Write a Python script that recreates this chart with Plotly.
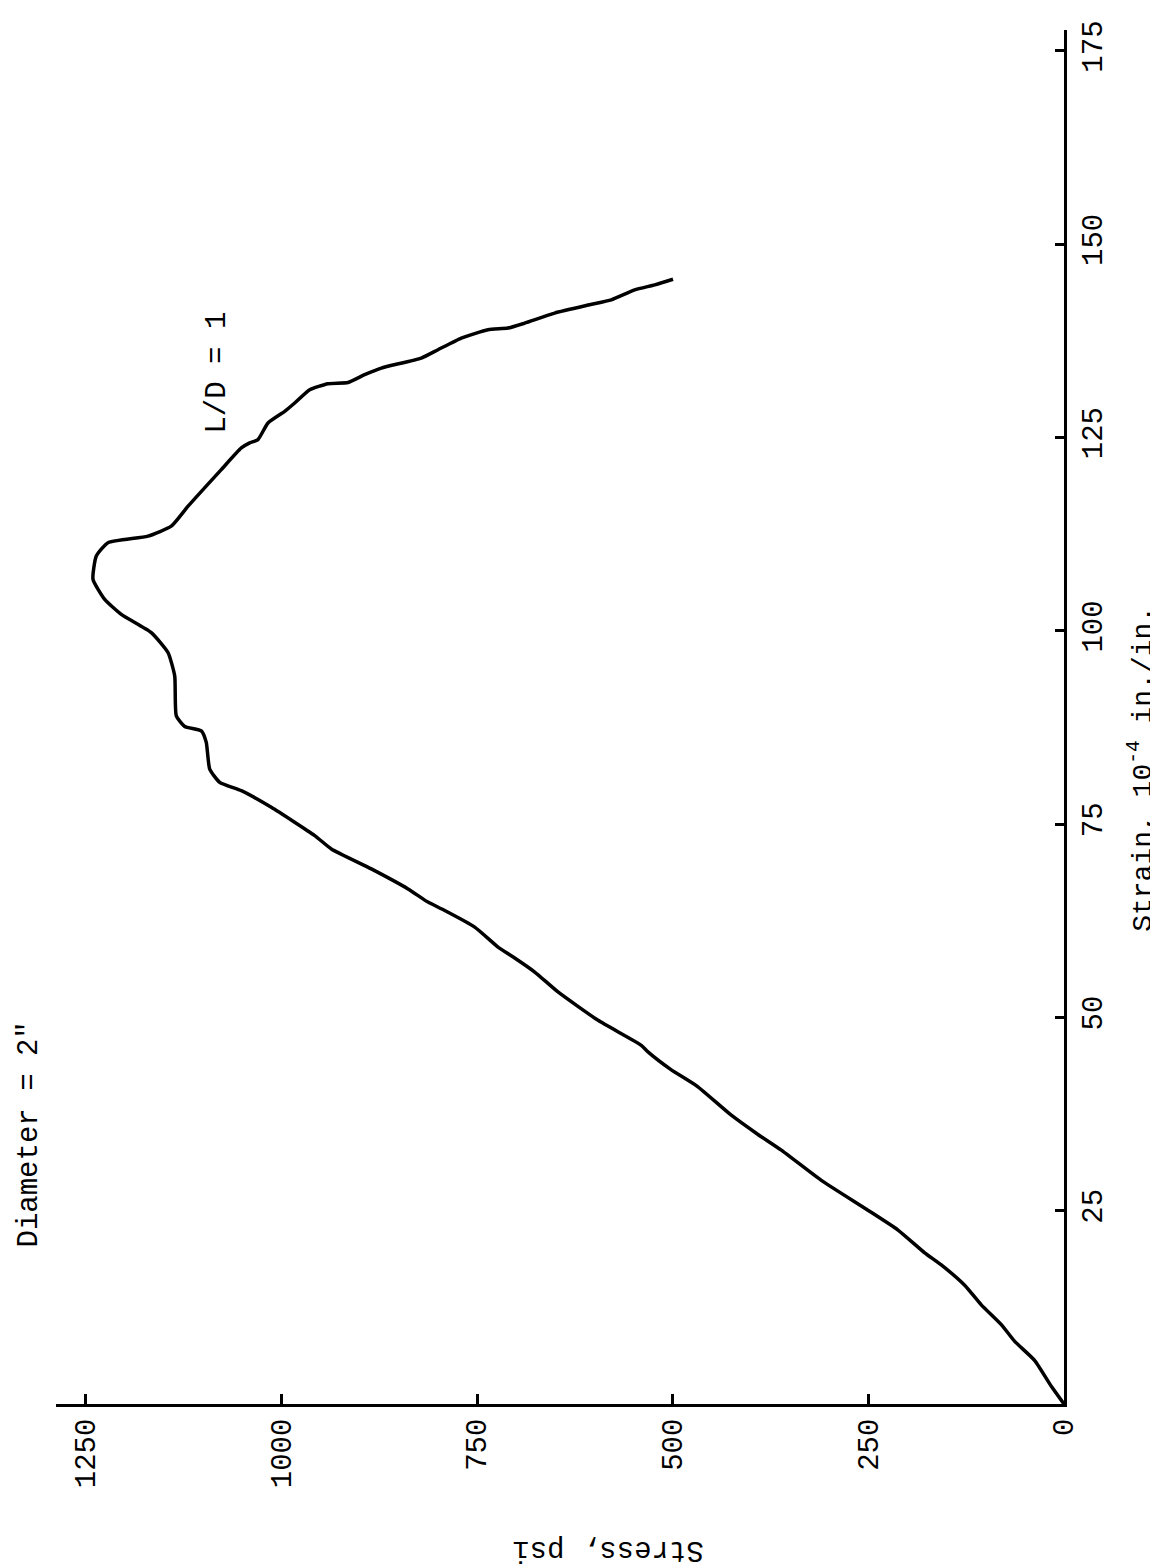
import plotly.graph_objects as go

# Stress (psi) vs strain (10^-4 in./in.)
strain = [0, 2.29, 5.62, 8.10, 10.26, 12.82, 15.36, 17.99, 19.55, 22.50, 25.22, 28.92,
          32.83, 34.86, 37.35, 41.12, 43.25, 45.54, 46.39, 49.62, 53.29, 55.87, 57.68,
          59.10, 61.68, 63.82, 64.91, 66.62, 69.21, 71.79, 73.51, 77.17, 79.32, 80.40,
          82.12, 85.57, 87.06, 87.63, 89.00, 94.16, 97.19, 99.77, 102.13, 104.07, 106.65,
          109.66, 111.39, 112.24, 113.53, 116.11, 120.85, 123.65, 124.30, 124.73, 126.88,
          128.38, 129.46, 131.18, 131.96, 132.12, 133.12, 133.98, 135.27, 136.35, 137.86,
          138.93, 139.15, 139.79, 141.09, 142.16, 142.80, 144.09, 144.74, 145.47]
stress = [0, 16.2, 37.4, 63.0, 80.1, 105.7, 126.9, 156.8, 178.0, 212.1, 253.0, 310.1,
          361.2, 391.0, 425.1, 469.0, 502.2, 531.6, 540.1, 595.4, 646.6, 676.3, 701.9,
          723.2, 753.0, 791.3, 812.7, 838.2, 885.1, 936.2, 957.4, 1012.9, 1051.2, 1078.8,
          1091.6, 1096.0, 1102.3, 1123.6, 1134.3, 1136.3, 1144.9, 1166.2, 1204.6, 1225.8,
          1240.7, 1236.5, 1221.6, 1170.5, 1140.7, 1119.3, 1076.8, 1051.2, 1040.5, 1029.9,
          1017.1, 995.8, 983.0, 963.8, 940.5, 914.9, 893.6, 872.3, 821.2, 799.9, 770.1,
          736.0, 710.5, 689.1, 650.8, 606.1, 578.5, 548.6, 523.0, 499.6]

stress_ticks = [0, 250, 500, 750, 1000, 1250]
strain_ticks = [25, 50, 75, 100, 125, 150, 175]

FONT = "Liberation Mono, Courier New, monospace"

fig = go.Figure()
fig.add_trace(go.Scatter(
    x=stress, y=strain, mode="lines",
    line=dict(color="black", width=3.5, shape="spline", smoothing=0.5),
    showlegend=False, hoverinfo="skip"))

fig.update_layout(
    width=1158, height=1564,
    margin=dict(l=48, r=102, t=20, b=168),
    paper_bgcolor="white", plot_bgcolor="white",
    font=dict(family=FONT, size=29, color="black"),
    xaxis=dict(range=[1288, 0], tickvals=stress_ticks,
               ticktext=[str(v) for v in stress_ticks],
               ticks="inside", ticklen=10, tickwidth=3, tickcolor="black",
               showline=True, linewidth=3, linecolor="black",
               tickangle=-90, tickfont=dict(family=FONT, size=29, color="black"),
               showgrid=False, zeroline=False),
    yaxis=dict(range=[0, 177.7], side="right", tickvals=strain_ticks,
               ticktext=[str(v) for v in strain_ticks],
               ticks="inside", ticklen=9, tickwidth=3, tickcolor="black",
               showline=True, linewidth=3, linecolor="black",
               tickangle=-90, tickfont=dict(family=FONT, size=29, color="black"),
               showgrid=False, zeroline=False),
)

fig.add_annotation(text="Strain, 10<sup>-4</sup> in./in.", textangle=-90,
                   xref="paper", yref="paper", x=1.077, y=0.462,
                   xanchor="center", yanchor="middle", showarrow=False,
                   borderpad=0,
                   font=dict(family=FONT, size=28, color="black"))
fig.add_annotation(text="Stress, psi", textangle=180,
                   xref="paper", yref="paper", x=0.548, y=-0.106,
                   xanchor="center", yanchor="middle", showarrow=False,
                   font=dict(family=FONT, size=29, color="black"))
fig.add_annotation(text="L/D = 1", textangle=-90,
                   xref="x", yref="y", x=1081, y=133.4,
                   xanchor="center", yanchor="middle", showarrow=False,
                   font=dict(family=FONT, size=29, color="black"))
fig.add_annotation(text="Diameter = 2\"", textangle=-90,
                   xref="paper", yref="paper", x=-0.026, y=0.196,
                   xanchor="center", yanchor="middle", showarrow=False,
                   font=dict(family=FONT, size=29, color="black"))

fig.write_html("out.html")
